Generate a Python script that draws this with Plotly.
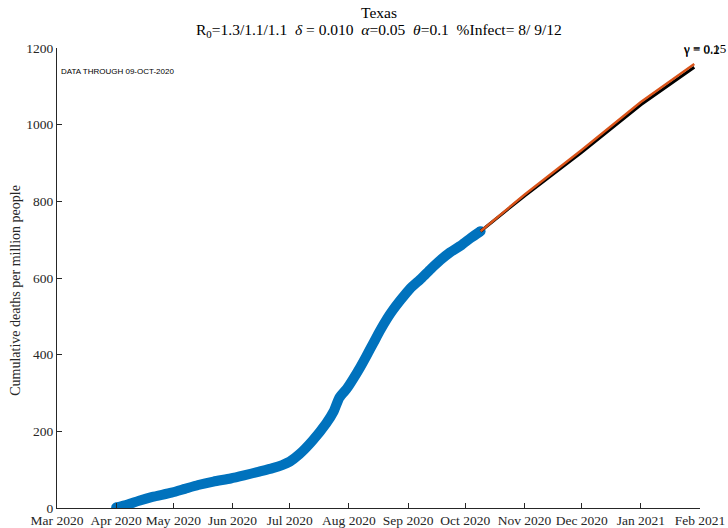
import plotly.graph_objects as go

# Observed data (cumulative deaths per million)
obs_dates = ["2020-04-01", "2020-04-07", "2020-04-13", "2020-04-20", "2020-04-30",
             "2020-05-07", "2020-05-14", "2020-05-22", "2020-05-31", "2020-06-07",
             "2020-06-15", "2020-06-22", "2020-06-27", "2020-07-01", "2020-07-06",
             "2020-07-13", "2020-07-20", "2020-07-24", "2020-07-27", "2020-07-31",
             "2020-08-03", "2020-08-07", "2020-08-10", "2020-08-14", "2020-08-17",
             "2020-08-21", "2020-08-24", "2020-08-28", "2020-09-02", "2020-09-08",
             "2020-09-13", "2020-09-18", "2020-09-23", "2020-09-29", "2020-10-04",
             "2020-10-09"]
obs_values = [1, 9, 19, 29, 40,
              50, 60, 69, 77, 85,
              95, 104, 112, 121, 140,
              176, 220, 252, 288, 312,
              335, 368, 395, 432, 460,
              494, 516, 542, 572, 599,
              624, 647, 667, 686, 705,
              722]

# Projections
proj_dates = ["2020-10-09", "2020-11-01", "2020-12-01", "2021-01-01", "2021-01-29"]
proj_black = [722, 814, 928, 1052, 1150]
proj_orange = [722, 817, 934, 1059, 1158]

gamma_labels = ["γ = 0.15", "γ = 0.2"]

month_ticks = ["2020-03-01", "2020-04-01", "2020-05-01", "2020-06-01", "2020-07-01",
               "2020-08-01", "2020-09-01", "2020-10-01", "2020-11-01", "2020-12-01",
               "2021-01-01", "2021-02-01"]
month_labels = ["Mar 2020", "Apr 2020", "May 2020", "Jun 2020", "Jul 2020", "Aug 2020",
                "Sep 2020", "Oct 2020", "Nov 2020", "Dec 2020", "Jan 2021", "Feb 2021"]

SERIF = "Liberation Serif"
AX = "#262626"
BLUE = "#0072BD"
ORANGE = "#D95319"

fig = go.Figure()
fig.add_trace(go.Scatter(x=obs_dates, y=obs_values, mode="lines",
                         line=dict(color=ORANGE, width=1.5, dash="dot"),
                         showlegend=False, hoverinfo="skip"))
fig.add_trace(go.Scatter(x=obs_dates, y=obs_values, mode="lines",
                         line=dict(color=BLUE, width=10, shape="spline", smoothing=0.6),
                         showlegend=False))
fig.add_trace(go.Scatter(x=[obs_dates[0], obs_dates[-1]], y=[obs_values[0], obs_values[-1]],
                         mode="markers", marker=dict(color=BLUE, size=10),
                         showlegend=False, hoverinfo="skip"))
fig.add_trace(go.Scatter(x=proj_dates, y=proj_black, mode="lines",
                         line=dict(color="black", width=3), showlegend=False))
fig.add_trace(go.Scatter(x=proj_dates, y=proj_orange, mode="lines",
                         line=dict(color=ORANGE, width=2.5), showlegend=False))

fig.update_layout(
    width=728, height=528,
    margin=dict(l=57, r=28, t=48, b=20, autoexpand=False),
    paper_bgcolor="white", plot_bgcolor="white",
    font=dict(family=SERIF, size=13.5, color=AX),
    xaxis=dict(type="date", range=["2020-03-01", "2021-02-01"],
               tickvals=month_ticks, ticktext=month_labels, automargin=False,
               ticks="inside", ticklen=5, tickcolor=AX, tickwidth=1,
               showline=True, linecolor=AX, linewidth=1,
               showgrid=False, zeroline=False, mirror=False,
               tickfont=dict(family=SERIF, size=13.5, color=AX)),
    yaxis=dict(range=[0, 1200], tickvals=[0, 200, 400, 600, 800, 1000, 1200],
               automargin=False,
               ticks="inside", ticklen=5, tickcolor=AX, tickwidth=1,
               showline=True, linecolor=AX, linewidth=1,
               showgrid=False, zeroline=False, mirror=False,
               tickfont=dict(family=SERIF, size=13.5, color=AX)),
)

nb = "\u00a0"
title2 = ("R<sub>0</sub>=1.3/1.1/1.1" + nb * 2 + "<i>δ</i> = 0.010" + nb * 2 +
          "<i>α</i>=0.05" + nb * 2 + "<i>θ</i>=0.1" + nb * 2 + "%Infect= 8/" + nb + "9/12")

fig.add_annotation(text="Texas", xref="paper", yref="paper", x=0.5, y=1.078,
                   xanchor="center", yanchor="middle", showarrow=False,
                   font=dict(family=SERIF, size=15.5, color="black"))
fig.add_annotation(text=title2, xref="paper", yref="paper", x=0.5, y=1.039,
                   xanchor="center", yanchor="middle", showarrow=False,
                   font=dict(family=SERIF, size=15.5, color="black"))
fig.add_annotation(text="DATA THROUGH 09-OCT-2020", xref="paper", yref="paper",
                   x=0.003, y=0.948, xanchor="left", yanchor="middle", showarrow=False,
                   font=dict(family="Liberation Sans", size=8, color="black"))
fig.add_annotation(text="Cumulative deaths per million people", xref="paper", yref="paper",
                   x=-0.064, y=0.474, xanchor="center", yanchor="middle", textangle=-90,
                   showarrow=False, font=dict(family=SERIF, size=14, color=AX))
for i, lab in enumerate(gamma_labels):
    fig.add_annotation(text=lab, xref="paper", yref="paper",
                       x=0.970, y=1.0 - i * 0.004, xanchor="left", yanchor="middle",
                       showarrow=False, font=dict(family=SERIF, size=13, color="black"))

fig.write_html("out.html", config={"displayModeBar": False},
               post_script="document.body.style.margin='0';"
                           "document.body.style.overflow='hidden';")
